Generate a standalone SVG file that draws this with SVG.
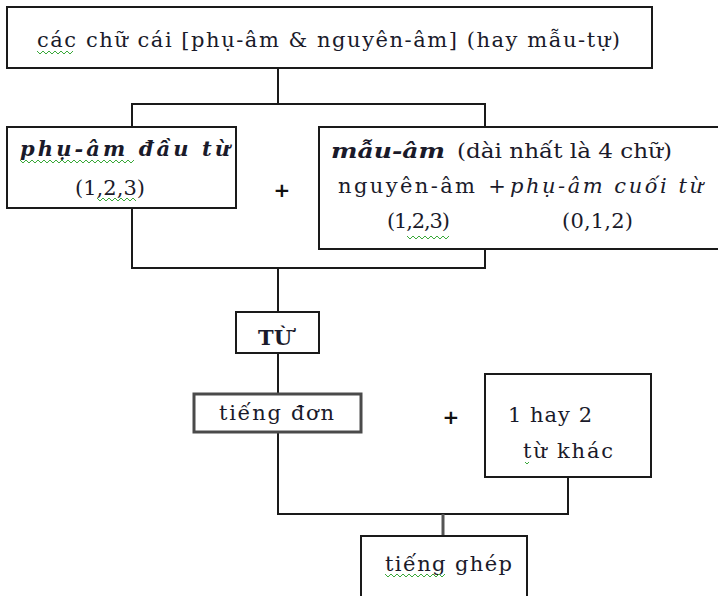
<svg xmlns="http://www.w3.org/2000/svg" width="718" height="596" viewBox="0 0 718 596">
  <style>
    .box { fill: #ffffff; stroke: #1a1a1a; stroke-width: 2; }
    .box-soft { fill: #ffffff; stroke: #4a4a4a; stroke-width: 3; }
    .wire { fill: none; stroke: #1a1a1a; stroke-width: 2; }
    .wire-soft { fill: none; stroke: #555555; stroke-width: 3; }
    .t { font-family: "DejaVu Serif", "Liberation Serif", serif; font-size: 21px; fill: #1a1a2a; }
    .bi { font-weight: bold; font-style: italic; }
    .it { font-style: italic; }
    .b { font-weight: bold; }
    .plus { font-family: "DejaVu Sans", "Liberation Sans", sans-serif; font-weight: bold; font-size: 20px; fill: #111111; }
    .squig { fill: none; stroke: #3aa83a; stroke-width: 1; }
  </style>

  <rect width="718" height="596" fill="#ffffff"/>

  <!-- connectors -->
  <g id="connectors">
    <polyline class="wire" points="278,68 278,104"/>
    <polyline class="wire" points="132,127 132,104 485,104 485,127"/>
    <polyline class="wire" points="132,208 132,268 485,268 485,249"/>
    <polyline class="wire" points="278,268 278,312"/>
    <polyline class="wire" points="278,353 278,394"/>
    <polyline class="wire" points="278,432 278,514 568,514 568,477"/>
    <polyline class="wire-soft" points="443,514 443,536"/>
  </g>

  <!-- alphabet -->
  <g id="node-letters">
    <rect class="box" x="7" y="7" width="645" height="61"/>
    <text class="t" x="37" y="47" textLength="583" lengthAdjust="spacing">các chữ cái [phụ-âm &amp; nguyên-âm] (hay mẫu-tự)</text>
    <path class="squig" d="M37,51 l3,3 l3,-3 l3,3 l3,-3 l3,3 l3,-3 l3,3 l3,-3 l3,3 l3,-3 l3,3 l3,-3"/>
  </g>

  <!-- initial consonant -->
  <g id="node-initial">
    <rect class="box" x="7" y="127" width="229" height="81"/>
    <text class="t bi" x="20" y="156" textLength="210" lengthAdjust="spacing">phụ-âm đầu từ</text>
    <text class="t" x="75" y="195" textLength="70" lengthAdjust="spacing">(1,2,3)</text>
    <path class="squig" d="M20,160 l3,3 l3,-3 l3,3 l3,-3 l3,3 l3,-3 l3,3 l3,-3 l3,3 l3,-3 l3,3 l3,-3 l3,3 l3,-3 l3,3 l3,-3 l3,3 l3,-3 l3,3 l3,-3 l3,3 l3,-3 l3,3 l3,-3 l3,3 l3,-3 l3,3 l3,-3 l3,3 l3,-3 l3,3 l3,-3 l3,3 l3,-3 l3,3 l3,-3 l3,3 l3,-3"/>
    <path class="squig" d="M97,198 l3,3 l3,-3 l3,3 l3,-3 l3,3 l3,-3 l3,3 l3,-3 l3,3 l3,-3 l3,3 l3,-3 l3,3"/>
  </g>

  <g id="plus-1">
    <text class="plus" x="282" y="197" text-anchor="middle">+</text>
  </g>

  <!-- rhyme -->
  <g id="node-rhyme">
    <rect class="box" x="319" y="127" width="420" height="122"/>
    <text class="t bi" x="331" y="158" textLength="114" lengthAdjust="spacingAndGlyphs">mẫu-âm</text>
    <text class="t" x="457" y="158" textLength="215" lengthAdjust="spacingAndGlyphs">(dài nhất là 4 chữ)</text>
    <text class="t" x="338" y="193" textLength="137" lengthAdjust="spacing">nguyên-âm</text>
    <text class="t" x="497" y="193" text-anchor="middle">+</text>
    <text class="t it" x="510" y="193" textLength="193" lengthAdjust="spacing">phụ-âm cuối từ</text>
    <text class="t" x="387" y="228" textLength="63" lengthAdjust="spacing">(1,2,3)</text>
    <text class="t" x="562" y="228" textLength="71" lengthAdjust="spacing">(0,1,2)</text>
    <path class="squig" d="M407,236 l3,3 l3,-3 l3,3 l3,-3 l3,3 l3,-3 l3,3 l3,-3 l3,3 l3,-3 l3,3 l3,-3 l3,3 l3,-3"/>
  </g>

  <!-- word -->
  <g id="node-word">
    <rect class="box" x="236" y="312" width="83" height="41"/>
    <text class="t b" x="275" y="345" text-anchor="middle" font-size="22">TỪ</text>
  </g>

  <!-- single word -->
  <g id="node-single">
    <rect class="box-soft" x="194" y="394" width="167" height="38"/>
    <text class="t" x="219" y="420" textLength="115" lengthAdjust="spacing">tiếng đơn</text>
  </g>

  <g id="plus-2">
    <text class="plus" x="451" y="424" text-anchor="middle">+</text>
  </g>

  <!-- other words -->
  <g id="node-other">
    <rect class="box" x="485" y="374" width="166" height="103"/>
    <text class="t" x="508" y="422" textLength="84" lengthAdjust="spacing">1 hay 2</text>
    <text class="t" x="523" y="458" textLength="90" lengthAdjust="spacing">từ khác</text>
    <path class="squig" d="M525,462 l2,2 l2,-2"/>
  </g>

  <!-- compound word -->
  <g id="node-compound">
    <rect class="box" x="361" y="536" width="166" height="80"/>
    <text class="t" x="385" y="571" textLength="127" lengthAdjust="spacing">tiếng ghép</text>
    <path class="squig" d="M385,574 l3,3 l3,-3 l3,3 l3,-3 l3,3 l3,-3 l3,3 l3,-3 l3,3 l3,-3 l3,3 l3,-3 l3,3 l3,-3 l3,3 l3,-3 l3,3 l3,-3 l3,3 l3,-3"/>
  </g>
</svg>
